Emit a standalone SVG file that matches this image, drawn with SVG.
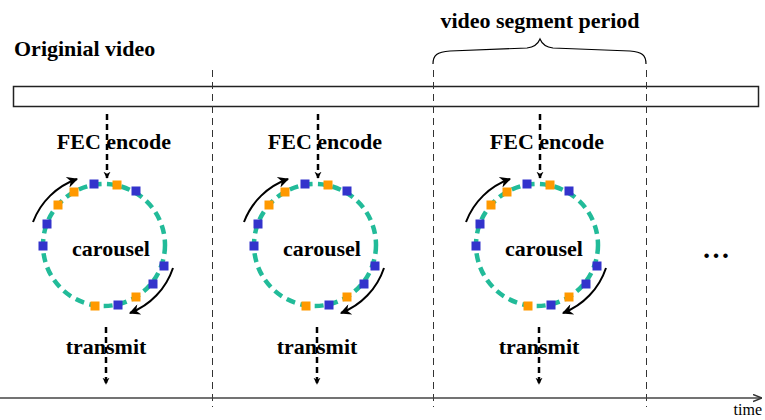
<svg xmlns="http://www.w3.org/2000/svg" width="765" height="420" viewBox="0 0 765 420">
<defs>
<style>
.lbl{font-family:"Liberation Serif","Times New Roman",serif;font-weight:bold;font-size:22px;fill:#000}
.reg{font-family:"Liberation Serif","Times New Roman",serif;font-size:16px;fill:#000}
.vdash{stroke:#333;stroke-width:1;stroke-dasharray:7 5;fill:none}
.flow{stroke:#000;stroke-width:2.5;stroke-dasharray:6 4;fill:none}
.ring{stroke:#22bb99;stroke-width:4.5;stroke-dasharray:9 5.5;fill:none}
.rot{stroke:#000;stroke-width:2;fill:none}
.b{fill:#3333cc}
.o{fill:#ff9900}
</style>
<marker id="ah" viewBox="0 0 10 10" refX="9" refY="5" markerWidth="7" markerHeight="8" markerUnits="userSpaceOnUse" orient="auto">
<path d="M0,0 L10,5 L0,10 L3,5 Z" fill="#000"/>
</marker>
<marker id="rh" viewBox="0 0 10 10" refX="9" refY="5" markerWidth="13" markerHeight="11" markerUnits="userSpaceOnUse" orient="auto">
<path d="M0,0 L10,5 L0,10 L3,5 Z" fill="#000"/>
</marker>
<marker id="th" viewBox="0 0 10 10" refX="10" refY="5" markerWidth="9" markerHeight="9" markerUnits="userSpaceOnUse" orient="auto">
<path d="M0,1 L10,5 L0,9" fill="none" stroke="#333" stroke-width="1.5"/>
</marker>
<g id="column">
<line class="flow" x1="107" y1="114" x2="107" y2="178" marker-end="url(#ah)"/>
<text class="lbl" x="114" y="149" text-anchor="middle">FEC encode</text>
<circle class="ring" cx="104" cy="245" r="61"/>
<rect class="b" x="89.5" y="179.5" width="9" height="9"/>
<rect class="o" x="112.5" y="180.5" width="9" height="9"/>
<rect class="b" x="131.5" y="186.5" width="9" height="9"/>
<rect class="o" x="69.5" y="187.5" width="9" height="9"/>
<rect class="o" x="53.5" y="200.5" width="9" height="9"/>
<rect class="b" x="42.5" y="219.5" width="9" height="9"/>
<rect class="b" x="38.5" y="241.5" width="9" height="9"/>
<rect class="b" x="159.5" y="261.5" width="9" height="9"/>
<rect class="b" x="148.5" y="279.5" width="9" height="9"/>
<rect class="o" x="131.5" y="292.5" width="9" height="9"/>
<rect class="b" x="113.5" y="300.5" width="9" height="9"/>
<rect class="o" x="90.5" y="301.5" width="9" height="9"/>
<path class="rot" d="M33,222 A73,73 0 0 1 77,179" marker-end="url(#rh)"/>
<path class="rot" d="M173,268 A73,73 0 0 1 130,313" marker-end="url(#rh)"/>
<text class="lbl" x="111" y="256" text-anchor="middle">carousel</text>
<line class="flow" x1="106" y1="327" x2="106" y2="384" marker-end="url(#ah)"/>
<text class="lbl" x="106" y="354" text-anchor="middle">transmit</text>
</g>
</defs>
<text class="lbl" x="14" y="56">Originial video</text>
<text class="lbl" x="540" y="28" text-anchor="middle">video segment period</text>
<g id="brace">
<path d="M433,64 C433,55 437,52 450,51 L527,48 C535,47 538,44 540,39 C542,44 545,47 553,48 L630,51 C642,52 646,55 646,64" fill="none" stroke="#000" stroke-width="1.2"/>
</g>
<g id="video-bar">
<rect x="13.5" y="86.5" width="745" height="20" fill="#fff" stroke="#222" stroke-width="1.5"/>
</g>
<g id="connectors">
<line class="vdash" x1="212.5" y1="70" x2="212.5" y2="407"/>
<line class="vdash" x1="433.5" y1="70" x2="433.5" y2="407"/>
<line class="vdash" x1="646.5" y1="70" x2="646.5" y2="407"/>
<line x1="0" y1="398" x2="762" y2="398" stroke="#444" stroke-width="1.5" marker-end="url(#th)"/>
</g>
<g id="segment1"><use href="#column"/></g>
<g id="segment2"><use href="#column" transform="translate(211,0)"/></g>
<g id="segment3"><use href="#column" transform="translate(433,0)"/></g>
<g id="more"><text class="lbl" x="702" y="258" style="font-size:28px">…</text></g>
<text class="reg" x="762" y="415" text-anchor="end">time</text>
</svg>
